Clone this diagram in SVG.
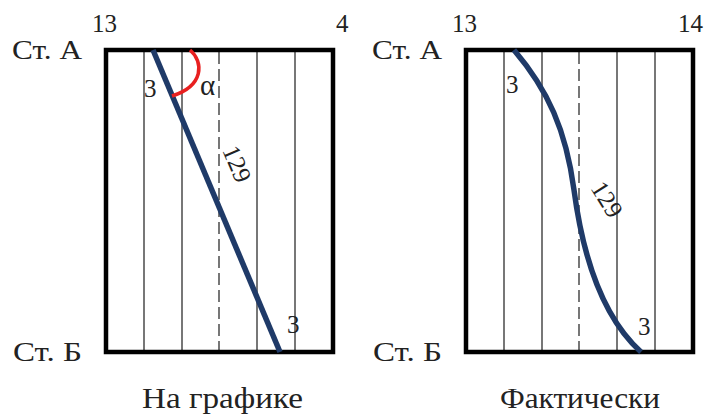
<svg xmlns="http://www.w3.org/2000/svg" width="707" height="418" viewBox="0 0 707 418">
<style>
.t{font-family:"Liberation Serif","Tinos","Noto Serif","DejaVu Serif",serif;font-size:25px;fill:#222}
.st{font-size:27px}
.cap{font-size:30px}
.frame{fill:none;stroke:#000;stroke-width:4.5}
.grid{stroke:#555;stroke-width:1.6}
.dash{stroke:#555;stroke-width:1.6;stroke-dasharray:12 5}
.route{fill:none;stroke:#1f3a68;stroke-width:5.5;stroke-linecap:butt}
</style>
<rect width="707" height="418" fill="#fff"/>
<g id="left-chart">
  <line class="grid" x1="144" y1="50" x2="144" y2="352"/>
  <line class="grid" x1="182" y1="50" x2="182" y2="352"/>
  <line class="dash" x1="219" y1="52" x2="219" y2="352"/>
  <line class="grid" x1="257" y1="50" x2="257" y2="352"/>
  <line class="grid" x1="295" y1="50" x2="295" y2="352"/>
  <rect class="frame" x="106" y="50" width="227" height="302"/>
  <text class="t" x="92" y="32">13</text>
  <text class="t" x="336" y="32">4</text>
  <text class="t st" x="12" y="59" textLength="70" lengthAdjust="spacingAndGlyphs">Ст. А</text>
  <text class="t st" x="13" y="361" textLength="69" lengthAdjust="spacingAndGlyphs">Ст. Б</text>
  <text class="t cap" x="142" y="408" textLength="161" lengthAdjust="spacingAndGlyphs">На графике</text>
</g>
<g id="right-chart">
  <line class="grid" x1="504" y1="50" x2="504" y2="352"/>
  <line class="grid" x1="542" y1="50" x2="542" y2="352"/>
  <line class="dash" x1="579" y1="52" x2="579" y2="352"/>
  <line class="grid" x1="617" y1="50" x2="617" y2="352"/>
  <line class="grid" x1="655" y1="50" x2="655" y2="352"/>
  <rect class="frame" x="466" y="50" width="227" height="302"/>
  <text class="t" x="452" y="32">13</text>
  <text class="t" x="678" y="32">14</text>
  <text class="t st" x="372" y="59" textLength="70" lengthAdjust="spacingAndGlyphs">Ст. А</text>
  <text class="t st" x="373" y="361" textLength="69" lengthAdjust="spacingAndGlyphs">Ст. Б</text>
  <text class="t cap" x="500" y="408" textLength="160" lengthAdjust="spacingAndGlyphs">Фактически</text>
</g>
<g id="connectors">
  <line class="route" x1="153" y1="50" x2="280" y2="352"/>
  <path d="M190,50 C204,62 204,86 172,96" fill="none" stroke="#e82020" stroke-width="3.5"/>
  <path class="route" d="M514,50 C548,90 566,130 574,190 C582,250 600,315 641,352"/>
</g>
<g id="labels">
  <text class="t" x="144" y="97">3</text>
  <text class="t" x="200" y="95" style="font-size:29px">α</text>
  <text class="t" transform="translate(222,150) rotate(67)">129</text>
  <text class="t" x="287" y="333">3</text>
  <text class="t" x="506" y="93">3</text>
  <text class="t" transform="translate(590,188) rotate(58)">129</text>
  <text class="t" x="638" y="335">3</text>
</g>
</svg>
